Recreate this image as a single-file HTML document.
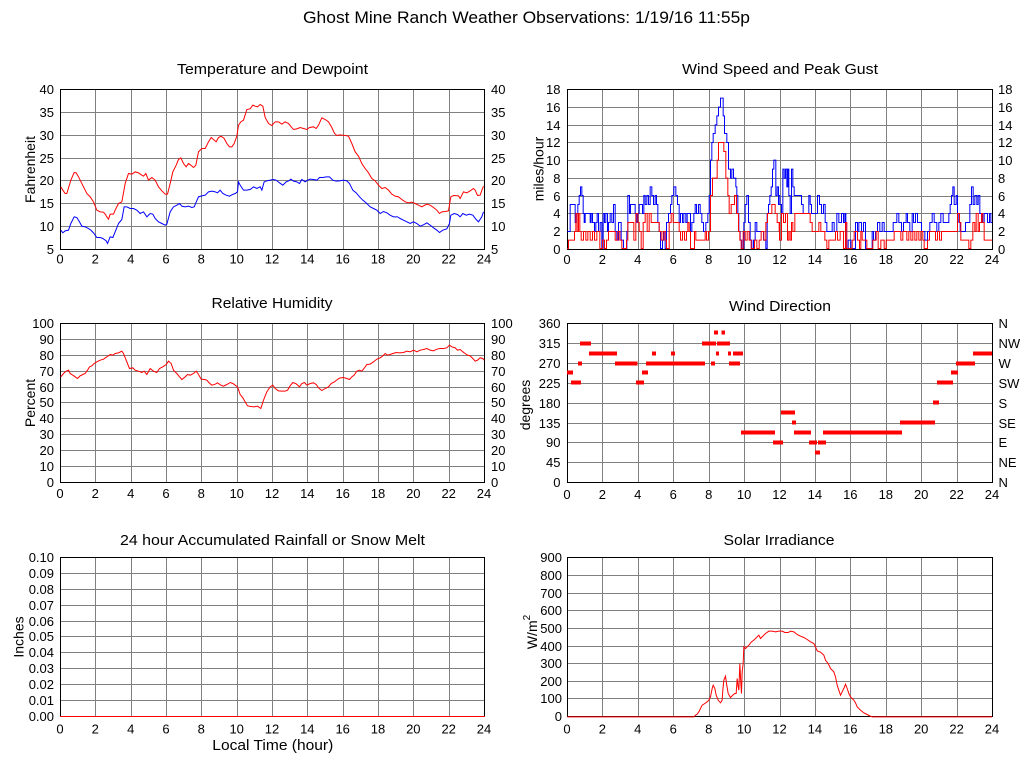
<!DOCTYPE html>
<html><head><meta charset="utf-8"><style>
html,body{margin:0;padding:0;background:#fff;}
svg{display:block;}
text{font-family:"Liberation Sans",Arial,sans-serif;fill:#000;}
.t{font-size:13px;}
.ttl{font-size:15px;}
.g{stroke:#808080;stroke-width:1;fill:none;shape-rendering:crispEdges;}
.b{stroke:#000;stroke-width:1;fill:none;shape-rendering:crispEdges;}
.r{stroke:#f00;stroke-width:1;fill:none;}
.bl{stroke:#00f;stroke-width:1;fill:none;}
</style></head><body>
<svg width="1024" height="768" viewBox="0 0 1024 768" xmlns="http://www.w3.org/2000/svg">
<rect width="1024" height="768" fill="#fff"/>
<text x="526.5" y="23" font-size="17" text-anchor="middle" textLength="447" lengthAdjust="spacingAndGlyphs">Ghost Mine Ranch Weather Observations: 1/19/16 11:55p</text>

<!-- ============ PANEL 1 : Temperature ============ -->
<text class="ttl" x="272.5" y="74" text-anchor="middle" textLength="191" lengthAdjust="spacingAndGlyphs">Temperature and Dewpoint</text>
<path class="g" d="M95.5,89V249M131.5,89V249M166.5,89V249M201.5,89V249M237.5,89V249M272.5,89V249M307.5,89V249M343.5,89V249M378.5,89V249M413.5,89V249M449.5,89V249M60,112.5H484M60,135.5H484M60,158.5H484M60,180.5H484M60,203.5H484M60,226.5H484"/>
<rect class="b" x="60.5" y="89.5" width="424" height="160"/>
<g transform="translate(0.17,50.17) scale(0.33333)">
<polyline class="r" vector-effect="non-scaling-stroke" points="182,410 188,420 195,430 200,430 206,410 212,390 222,367 228,368 235,380 240,390 250,410 260,430 270,440 280,455 290,480 300,485 310,486 315,492 320,500 325,507 330,492 340,492 345,480 355,460 365,455 375,400 385,370 395,372 405,365 415,368 425,375 430,378 437,370 445,390 455,382 465,390 475,410 485,422 495,432 502,432 510,400 518,365 528,345 535,328 542,323 550,340 558,350 565,340 572,345 580,352 587,345 595,305 605,295 615,295 625,275 633,262 640,268 648,275 655,262 663,258 672,265 680,280 688,290 695,290 702,280 710,258 715,225 722,215 730,210 740,178 750,176 758,165 765,168 772,170 780,163 788,168 795,202 805,220 815,226 825,215 835,215 845,222 855,215 865,220 873,230 880,238 890,236 900,232 910,235 920,238 928,232 940,230 948,235 955,225 965,203 975,208 985,215 995,232 1003,250 1010,256 1020,254 1035,256 1045,258 1055,280 1065,305 1075,318 1085,340 1095,355 1105,368 1115,385 1125,392 1135,405 1145,415 1155,412 1165,420 1175,432 1185,438 1195,440 1205,448 1215,455 1225,458 1235,456 1245,460 1255,465 1265,470 1272,466 1280,462 1290,465 1300,472 1310,480 1318,490 1325,485 1335,484 1345,482 1352,440 1360,436 1375,437 1380,445 1390,425 1400,428 1410,422 1420,415 1425,420 1432,436 1440,435 1447,415 1450,408"/>
<polyline class="bl" vector-effect="non-scaling-stroke" points="182,540 188,548 195,542 205,540 212,520 222,500 230,502 238,515 245,528 255,530 265,535 272,540 280,548 290,562 300,562 308,565 318,572 322,580 330,560 338,562 345,545 355,520 365,508 372,470 380,470 390,475 400,475 410,480 420,490 430,485 440,500 450,490 458,492 465,505 475,515 485,520 495,525 500,522 510,485 520,470 530,465 538,460 545,468 555,470 565,468 575,472 582,470 595,440 605,437 615,435 625,425 635,423 645,425 652,428 660,420 668,430 678,435 688,438 695,434 705,430 712,425 715,395 720,405 730,420 740,420 750,418 760,410 770,415 780,410 785,420 792,395 800,392 810,390 820,388 828,390 838,398 848,405 858,395 866,392 872,387 880,393 890,395 898,400 905,388 915,395 922,390 930,387 940,388 950,390 958,382 968,382 978,380 988,380 998,390 1008,393 1018,392 1030,390 1040,392 1048,400 1058,420 1068,428 1078,440 1088,450 1098,458 1110,470 1120,475 1130,480 1140,490 1150,484 1160,488 1170,495 1180,500 1192,500 1200,505 1210,510 1220,515 1230,520 1240,515 1250,520 1260,528 1270,524 1280,518 1290,525 1300,533 1310,540 1318,547 1328,540 1340,536 1348,520 1352,495 1362,490 1372,493 1380,500 1388,490 1398,495 1408,492 1418,495 1428,508 1435,515 1445,500 1450,485"/>
</g>
<g class="t" text-anchor="end">
<text x="54" y="94">40</text><text x="54" y="117">35</text><text x="54" y="140">30</text><text x="54" y="163">25</text><text x="54" y="185">20</text><text x="54" y="208">15</text><text x="54" y="231">10</text><text x="54" y="254">5</text>
</g>
<g class="t" text-anchor="start">
<text x="491" y="94">40</text><text x="491" y="117">35</text><text x="491" y="140">30</text><text x="491" y="163">25</text><text x="491" y="185">20</text><text x="491" y="208">15</text><text x="491" y="231">10</text><text x="491" y="254">5</text>
</g>
<g class="t" text-anchor="middle">
<text x="60" y="263.5">0</text><text x="95.3" y="263.5">2</text><text x="130.7" y="263.5">4</text><text x="166" y="263.5">6</text><text x="201.3" y="263.5">8</text><text x="236.7" y="263.5">10</text><text x="272" y="263.5">12</text><text x="307.3" y="263.5">14</text><text x="342.7" y="263.5">16</text><text x="378" y="263.5">18</text><text x="413.3" y="263.5">20</text><text x="448.7" y="263.5">22</text><text x="484" y="263.5">24</text>
</g>
<text font-size="14" transform="translate(35,169.5) rotate(-90)" text-anchor="middle">Fahrenheit</text>

<!-- ============ PANEL 2 : Wind Speed ============ -->
<text class="ttl" x="780" y="74" text-anchor="middle" textLength="196" lengthAdjust="spacingAndGlyphs">Wind Speed and Peak Gust</text>
<path class="g" d="M602.5,89V249M638.5,89V249M673.5,89V249M709.5,89V249M744.5,89V249M780.5,89V249M815.5,89V249M850.5,89V249M886.5,89V249M921.5,89V249M957.5,89V249M567,107.5H992M567,125.5H992M567,142.5H992M567,160.5H992M567,178.5H992M567,196.5H992M567,213.5H992M567,231.5H992"/>
<rect class="b" x="567.5" y="89.5" width="425" height="160"/>
<g transform="translate(565.17,88.17) scale(0.33333)">
<path class="bl" vector-effect="non-scaling-stroke" d="M6,430 H15 V349 H30 V403 H33 V376 H38 V349 H42 V322 H46 V296 H50 V322 H54 V376 H57 V403 H60 V376 H75 V403 H78 V376 H82 V403 H88 V430 H92 V403 H96 V376 H100 V430 H105 V403 H110 V481 H114 V376 H118 V403 H122 V376 H127 V430 H130 V403 H135 V376 H140 V403 H145 V349 H150 V430 H155 V456 H160 V403 H168 V456 H175 V481 H185 V430 H188 V322 H193 V376 H196 V349 H210 V376 H215 V403 H218 V376 H222 V349 H232 V376 H236 V322 H240 V349 H245 V322 H250 V349 H255 V296 H260 V322 H265 V349 H270 V322 H274 V349 H278 V403 H282 V430 H286 V481 H292 V456 H296 V430 H300 V481 H304 V403 H310 V376 H316 V349 H320 V322 H326 V296 H332 V322 H337 V349 H342 V403 H346 V376 H352 V403 H356 V376 H362 V403 H366 V376 H376 V430 H380 V403 H386 V376 H390 V349 H394 V376 H400 V349 H405 V376 H410 V403 H415 V430 H422 V403 H428 V376 H432 V322 H436 V216 H440 V163 H444 V136 H450 V110 H455 V83 H460 V57 H466 V30 H474 V83 H478 V136 H485 V163 H490 V243 H496 V270 H500 V243 H505 V270 H512 V296 H515 V322 H518 V376 H521 V430 H525 V456 H530 V481 H536 V403 H540 V349 H545 V322 H550 V403 H555 V456 H560 V481 H565 V456 H570 V403 H575 V430 H595 V456 H602 V481 H606 V376 H610 V349 H614 V322 H618 V296 H622 V243 H626 V216 H632 V322 H636 V296 H640 V349 H645"/>
<path class="r" vector-effect="non-scaling-stroke" d="M6,481 H10 V456 H28 V430 H32 V376 H36 V430 H40 V376 H44 V430 H48 V456 H55 V430 H62 V456 H68 V430 H75 V456 H82 V430 H88 V456 H95 V430 H104 V481 H112 V456 H118 V481 H124 V456 H130 V430 H150 V456 H158 V430 H164 V456 H170 V481 H184 V456 H188 V403 H206 V456 H212 V376 H218 V403 H222 V430 H228 V481 H234 V403 H240 V376 H246 V430 H252 V376 H258 V403 H282 V430 H288 V456 H294 V430 H300 V456 H304 V481 H312 V403 H318 V376 H324 V403 H342 V430 H346 V456 H352 V430 H358 V456 H364 V430 H368 V403 H372 V430 H376 V481 H388 V430 H392 V456 H420 V430 H424 V456 H430 V430 H436 V322 H442 V270 H456 V216 H460 V163 H476 V190 H482 V270 H488 V322 H492 V376 H498 V349 H508 V322 H514 V376 H520 V430 H524 V456 H528 V481 H534 V430 H540 V456 H546 V430 H552 V456 H558 V481 H568 V456 H575 V481 H582 V456 H588 V430 H596 V456 H602 V403 H607 V376 H620 V349 H630 V376 H636 V403 H642 V430 H645"/>
</g>
<g transform="translate(778.17,88.17) scale(0.33333)">
<path class="bl" vector-effect="non-scaling-stroke" d="M0,322 H5 V349 H10 V376 H14 V243 H18 V270 H22 V243 H26 V296 H29 V243 H32 V322 H36 V376 H40 V243 H44 V296 H48 V322 H70 V349 H75 V376 H92 V322 H96 V349 H100 V376 H118 V322 H124 V349 H130 V376 H136 V349 H141 V403 H146 V430 H162 V403 H168 V430 H176 V376 H182 V403 H190 V376 H196 V403 H200 V376 H203 V481 H210 V456 H218 V481 H232 V403 H238 V430 H242 V403 H250 V430 H256 V403 H262 V481 H282 V430 H286 V456 H292 V430 H298 V403 H305 V430 H312 V403 H318 V430 H345 V403 H356 V376 H362 V403 H370 V430 H376 V403 H384 V376 H388 V403 H395 V430 H402 V376 H406 V403 H412 V376 H418 V403 H430 V430 H440 V456 H448 V430 H455 V403 H462 V376 H468 V403 H476 V430 H482 V403 H488 V376 H495 V403 H512 V376 H516 V349 H520 V322 H524 V296 H528 V349 H534 V322 H538 V376 H542 V403 H546 V430 H562 V403 H575 V349 H580 V296 H585 V349 H590 V322 H596 V349 H600 V322 H605 V376 H612 V403 H618 V376 H628 V403 H634 V376 H638 V403 H642"/>
<path class="r" vector-effect="non-scaling-stroke" d="M0,403 H4 V456 H10 V376 H16 V403 H22 V376 H28 V456 H32 V430 H36 V456 H40 V403 H44 V430 H50 V376 H96 V403 H102 V430 H122 V403 H128 V430 H140 V456 H146 V481 H152 V456 H172 V430 H178 V456 H186 V430 H196 V481 H202 V403 H206 V481 H222 V456 H228 V430 H238 V456 H244 V481 H248 V430 H252 V456 H266 V481 H284 V456 H294 V430 H300 V481 H308 V456 H318 V481 H324 V456 H348 V430 H368 V456 H374 V430 H386 V456 H392 V430 H398 V456 H404 V430 H410 V456 H416 V430 H422 V456 H428 V430 H434 V456 H438 V481 H448 V456 H454 V430 H472 V456 H478 V430 H484 V456 H490 V430 H538 V376 H544 V403 H548 V456 H572 V481 H578 V456 H584 V403 H590 V430 H594 V376 H600 V430 H604 V403 H610 V376 H614 V403 H618 V456 H642"/>
</g>
<g class="t" text-anchor="end">
<text x="560.5" y="94">18</text><text x="560.5" y="112">16</text><text x="560.5" y="130">14</text><text x="560.5" y="147">12</text><text x="560.5" y="165">10</text><text x="560.5" y="183">8</text><text x="560.5" y="201">6</text><text x="560.5" y="218">4</text><text x="560.5" y="236">2</text><text x="560.5" y="254">0</text>
</g>
<g class="t" text-anchor="start">
<text x="998" y="94">18</text><text x="998" y="112">16</text><text x="998" y="130">14</text><text x="998" y="147">12</text><text x="998" y="165">10</text><text x="998" y="183">8</text><text x="998" y="201">6</text><text x="998" y="218">4</text><text x="998" y="236">2</text><text x="998" y="254">0</text>
</g>
<g class="t" text-anchor="middle">
<text x="567" y="264">0</text><text x="602.4" y="264">2</text><text x="637.8" y="264">4</text><text x="673.3" y="264">6</text><text x="708.7" y="264">8</text><text x="744.1" y="264">10</text><text x="779.5" y="264">12</text><text x="814.9" y="264">14</text><text x="850.3" y="264">16</text><text x="885.8" y="264">18</text><text x="921.2" y="264">20</text><text x="956.6" y="264">22</text><text x="992" y="264">24</text>
</g>
<text font-size="14" transform="translate(543.5,169) rotate(-90)" text-anchor="middle">miles/hour</text>

<!-- ============ PANEL 3 : RH ============ -->
<text class="ttl" x="272" y="308" text-anchor="middle" textLength="121" lengthAdjust="spacingAndGlyphs">Relative Humidity</text>
<path class="g" d="M95.5,323V482M131.5,323V482M166.5,323V482M201.5,323V482M237.5,323V482M272.5,323V482M307.5,323V482M343.5,323V482M378.5,323V482M413.5,323V482M449.5,323V482M60,339.5H484M60,355.5H484M60,371.5H484M60,387.5H484M60,402.5H484M60,418.5H484M60,434.5H484M60,450.5H484M60,466.5H484"/>
<rect class="b" x="60.5" y="323.5" width="424" height="159"/>
<g transform="translate(0.17,285.17) scale(0.33333)">
<polyline class="r" vector-effect="non-scaling-stroke" points="182,275 190,265 198,258 205,255 210,265 218,270 225,275 232,280 240,272 248,268 255,265 262,255 268,245 275,242 282,235 290,230 300,225 310,222 320,215 330,208 338,210 345,205 355,203 365,198 370,205 378,225 388,250 398,248 405,255 415,258 425,262 432,258 440,268 450,250 460,258 470,262 478,250 488,245 498,238 505,228 513,235 520,255 530,265 538,275 545,283 555,275 562,268 570,270 580,265 588,258 595,268 603,282 613,283 620,285 627,293 635,300 645,297 652,293 662,300 670,303 680,298 690,292 698,295 705,300 712,305 720,328 728,338 735,350 742,362 752,364 762,365 772,363 782,370 790,345 800,320 810,305 818,300 825,310 835,317 845,318 855,318 862,315 870,302 878,292 888,296 898,305 905,295 913,292 920,300 930,295 940,293 948,298 955,308 965,316 975,310 985,305 993,295 1003,290 1013,282 1020,278 1030,277 1040,280 1048,283 1055,275 1062,270 1070,258 1078,255 1085,258 1093,248 1100,238 1110,237 1120,230 1130,222 1140,218 1148,212 1155,205 1162,210 1170,208 1178,205 1188,202 1198,203 1210,202 1220,198 1230,200 1240,195 1250,200 1260,195 1270,193 1280,190 1290,195 1300,197 1310,192 1320,190 1330,190 1340,188 1348,180 1355,185 1365,188 1372,195 1380,193 1388,200 1395,205 1402,210 1410,212 1418,220 1425,228 1432,225 1440,218 1448,220 1452,225"/>
</g>
<g class="t" text-anchor="end">
<text x="54" y="328">100</text><text x="54" y="344">90</text><text x="54" y="360">80</text><text x="54" y="376">70</text><text x="54" y="392">60</text><text x="54" y="407">50</text><text x="54" y="423">40</text><text x="54" y="439">30</text><text x="54" y="455">20</text><text x="54" y="471">10</text><text x="54" y="487">0</text>
</g>
<g class="t" text-anchor="start">
<text x="491" y="328">100</text><text x="491" y="344">90</text><text x="491" y="360">80</text><text x="491" y="376">70</text><text x="491" y="392">60</text><text x="491" y="407">50</text><text x="491" y="423">40</text><text x="491" y="439">30</text><text x="491" y="455">20</text><text x="491" y="471">10</text><text x="491" y="487">0</text>
</g>
<g class="t" text-anchor="middle">
<text x="60" y="498">0</text><text x="95.3" y="498">2</text><text x="130.7" y="498">4</text><text x="166" y="498">6</text><text x="201.3" y="498">8</text><text x="236.7" y="498">10</text><text x="272" y="498">12</text><text x="307.3" y="498">14</text><text x="342.7" y="498">16</text><text x="378" y="498">18</text><text x="413.3" y="498">20</text><text x="448.7" y="498">22</text><text x="484" y="498">24</text>
</g>
<text font-size="14" transform="translate(35,403) rotate(-90)" text-anchor="middle">Percent</text>

<!-- ============ PANEL 4 : Wind Direction ============ -->
<text class="ttl" x="780" y="311" text-anchor="middle" textLength="102" lengthAdjust="spacingAndGlyphs">Wind Direction</text>
<path class="g" d="M602.5,323V482M638.5,323V482M673.5,323V482M709.5,323V482M744.5,323V482M780.5,323V482M815.5,323V482M850.5,323V482M886.5,323V482M921.5,323V482M957.5,323V482M567,343.5H992M567,363.5H992M567,383.5H992M567,403.5H992M567,423.5H992M567,442.5H992M567,462.5H992"/>
<rect class="b" x="567.5" y="323.5" width="425" height="159"/>
<g transform="translate(512,285) scale(0.33333)" fill="#f00" shape-rendering="crispEdges">
<rect x="165" y="257" width="18" height="12"/>
<rect x="177" y="287" width="30" height="12"/>
<rect x="198" y="229" width="12" height="12"/>
<rect x="204" y="169" width="33" height="12"/>
<rect x="231" y="199" width="84" height="12"/>
<rect x="309" y="229" width="68" height="12"/>
<rect x="372" y="287" width="24" height="12"/>
<rect x="390" y="257" width="18" height="12"/>
<rect x="420" y="199" width="12" height="12"/>
<rect x="402" y="229" width="177" height="12"/>
<rect x="477" y="199" width="12" height="12"/>
<rect x="570" y="169" width="42" height="12"/>
<rect x="606" y="137" width="12" height="12"/>
<rect x="597" y="229" width="12" height="12"/>
<rect x="612" y="199" width="9" height="12"/>
<rect x="629" y="137" width="10" height="12"/>
<rect x="615" y="169" width="39" height="12"/>
<rect x="648" y="199" width="9" height="12"/>
<rect x="651" y="229" width="33" height="12"/>
<rect x="663" y="199" width="30" height="12"/>
<rect x="687" y="437" width="102" height="12"/>
<rect x="783" y="467" width="30" height="12"/>
<rect x="807" y="377" width="42" height="12"/>
<rect x="840" y="407" width="12" height="12"/>
<rect x="846" y="437" width="51" height="12"/>
<rect x="891" y="467" width="24" height="12"/>
<rect x="909" y="496" width="15" height="12"/>
<rect x="918" y="467" width="24" height="12"/>
<rect x="933" y="437" width="237" height="12"/>
<rect x="1164" y="407" width="105" height="12"/>
<rect x="1263" y="347" width="18" height="12"/>
<rect x="1275" y="287" width="48" height="12"/>
<rect x="1317" y="257" width="21" height="12"/>
<rect x="1332" y="229" width="57" height="12"/>
<rect x="1383" y="199" width="57" height="12"/>
</g>
<g class="t" text-anchor="end">
<text x="560.5" y="328">360</text><text x="560.5" y="348">315</text><text x="560.5" y="368">270</text><text x="560.5" y="388">225</text><text x="560.5" y="408">180</text><text x="560.5" y="428">135</text><text x="560.5" y="447">90</text><text x="560.5" y="467">45</text><text x="560.5" y="487">0</text>
</g>
<g class="t" text-anchor="start">
<text x="998.5" y="328">N</text><text x="998.5" y="348">NW</text><text x="998.5" y="368">W</text><text x="998.5" y="388">SW</text><text x="998.5" y="408">S</text><text x="998.5" y="428">SE</text><text x="998.5" y="447">E</text><text x="998.5" y="467">NE</text><text x="998.5" y="487">N</text>
</g>
<g class="t" text-anchor="middle">
<text x="567" y="499">0</text><text x="602.4" y="499">2</text><text x="637.8" y="499">4</text><text x="673.3" y="499">6</text><text x="708.7" y="499">8</text><text x="744.1" y="499">10</text><text x="779.5" y="499">12</text><text x="814.9" y="499">14</text><text x="850.3" y="499">16</text><text x="885.8" y="499">18</text><text x="921.2" y="499">20</text><text x="956.6" y="499">22</text><text x="992" y="499">24</text>
</g>
<text font-size="14" transform="translate(530,405) rotate(-90)" text-anchor="middle">degrees</text>

<!-- ============ PANEL 5 : Rain ============ -->
<text class="ttl" x="272.5" y="545" text-anchor="middle" textLength="305" lengthAdjust="spacingAndGlyphs">24 hour Accumulated Rainfall or Snow Melt</text>
<path class="g" d="M95.5,557V716M131.5,557V716M166.5,557V716M201.5,557V716M237.5,557V716M272.5,557V716M307.5,557V716M343.5,557V716M378.5,557V716M413.5,557V716M449.5,557V716M60,573.5H484M60,589.5H484M60,605.5H484M60,621.5H484M60,636.5H484M60,652.5H484M60,668.5H484M60,684.5H484M60,700.5H484"/>
<rect class="b" x="60.5" y="557.5" width="424" height="159"/>
<path d="M60,716.5H485" stroke="#f00" stroke-width="1" shape-rendering="crispEdges"/>
<g class="t" text-anchor="end">
<text x="54" y="562">0.10</text><text x="54" y="578">0.09</text><text x="54" y="594">0.08</text><text x="54" y="610">0.07</text><text x="54" y="626">0.06</text><text x="54" y="641">0.05</text><text x="54" y="657">0.04</text><text x="54" y="673">0.03</text><text x="54" y="689">0.02</text><text x="54" y="705">0.01</text><text x="54" y="721">0.00</text>
</g>
<g class="t" text-anchor="middle">
<text x="60" y="733.5">0</text><text x="95.3" y="733.5">2</text><text x="130.7" y="733.5">4</text><text x="166" y="733.5">6</text><text x="201.3" y="733.5">8</text><text x="236.7" y="733.5">10</text><text x="272" y="733.5">12</text><text x="307.3" y="733.5">14</text><text x="342.7" y="733.5">16</text><text x="378" y="733.5">18</text><text x="413.3" y="733.5">20</text><text x="448.7" y="733.5">22</text><text x="484" y="733.5">24</text>
</g>
<text font-size="15" x="272.8" y="750" text-anchor="middle" textLength="121" lengthAdjust="spacingAndGlyphs">Local Time (hour)</text>
<text font-size="14" transform="translate(23.5,637) rotate(-90)" text-anchor="middle">Inches</text>

<!-- ============ PANEL 6 : Solar ============ -->
<text class="ttl" x="779" y="545" text-anchor="middle" textLength="111" lengthAdjust="spacingAndGlyphs">Solar Irradiance</text>
<path class="g" d="M602.5,557V716M638.5,557V716M673.5,557V716M709.5,557V716M744.5,557V716M780.5,557V716M815.5,557V716M850.5,557V716M886.5,557V716M921.5,557V716M957.5,557V716M567,575.5H992M567,593.5H992M567,610.5H992M567,628.5H992M567,646.5H992M567,663.5H992M567,681.5H992M567,698.5H992"/>
<rect class="b" x="567.5" y="557.5" width="425" height="159"/>
<g transform="translate(512.17,520.17) scale(0.33333)">
<polyline class="r" vector-effect="non-scaling-stroke" points="165,590 545,590 550,585 555,582 560,575 565,565 570,555 578,550 585,545 590,540 595,530 600,505 603,495 608,505 612,525 618,540 625,548 630,540 632,510 635,480 640,468 643,490 648,520 655,532 662,525 668,520 672,520 675,475 678,500 680,510 683,430 686,490 688,520 690,455 693,430 695,380 700,385 710,375 718,365 725,360 730,355 740,345 745,355 750,350 760,340 770,333 780,333 790,335 800,333 810,333 818,337 828,337 835,333 845,335 855,343 865,348 875,352 885,358 895,365 905,370 910,380 915,392 925,396 935,405 940,420 948,430 955,445 965,455 970,470 975,495 980,510 985,525 990,515 995,505 1000,492 1005,505 1010,520 1015,530 1020,535 1025,540 1030,548 1035,560 1045,570 1055,578 1065,583 1075,588 1080,590 1440,590"/>
</g>
<g class="t" text-anchor="end">
<text x="562" y="562">900</text><text x="562" y="580">800</text><text x="562" y="598">700</text><text x="562" y="615">600</text><text x="562" y="633">500</text><text x="562" y="651">400</text><text x="562" y="668">300</text><text x="562" y="686">200</text><text x="562" y="703">100</text><text x="562" y="721">0</text>
</g>
<g class="t" text-anchor="middle">
<text x="567" y="733.5">0</text><text x="602.4" y="733.5">2</text><text x="637.8" y="733.5">4</text><text x="673.3" y="733.5">6</text><text x="708.7" y="733.5">8</text><text x="744.1" y="733.5">10</text><text x="779.5" y="733.5">12</text><text x="814.9" y="733.5">14</text><text x="850.3" y="733.5">16</text><text x="885.8" y="733.5">18</text><text x="921.2" y="733.5">20</text><text x="956.6" y="733.5">22</text><text x="992" y="733.5">24</text>
</g>
<text font-size="14" transform="translate(537,632) rotate(-90)" text-anchor="middle">W/m<tspan font-size="10" dy="-7">2</tspan></text>
</svg>
</body></html>
